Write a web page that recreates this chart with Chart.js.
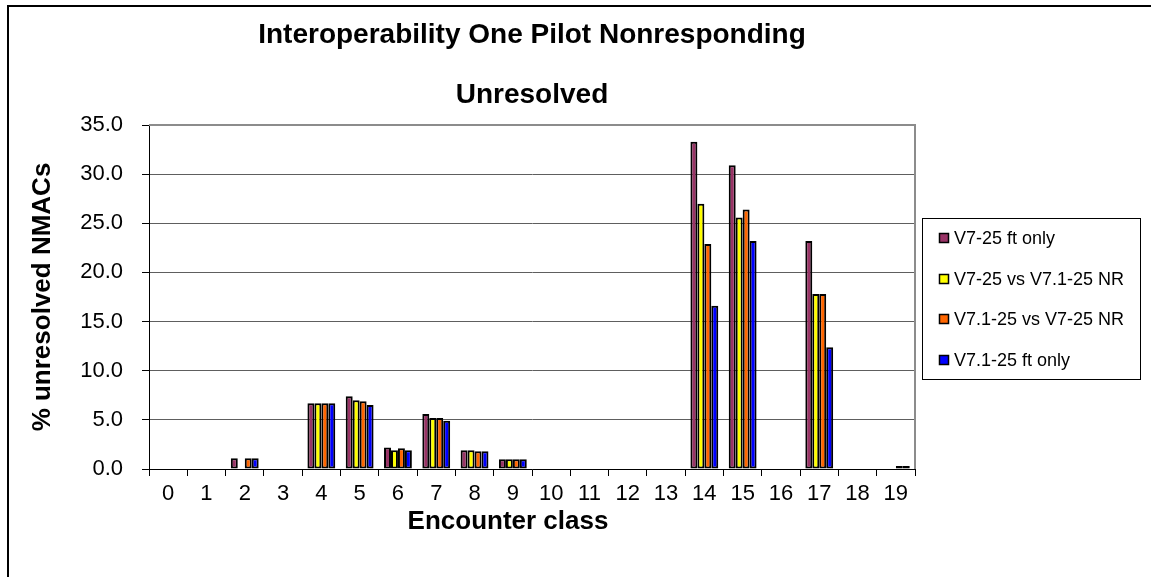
<!DOCTYPE html>
<html>
<head>
<meta charset="utf-8">
<title>Interoperability One Pilot Nonresponding Unresolved</title>
<script src="https://cdn.jsdelivr.net/npm/chart.js@4.4.1/dist/chart.umd.min.js"></script>
<style>
  html, body { margin: 0; padding: 0; background: #fff; }
  canvas { display: block; }
</style>
</head>
<body>
<canvas id="grafica" width="1151" height="577"></canvas>
<script>
// Datos: clases de encuentro y % de NMACs sin resolver por configuracion
var clases = ['0', '1', '2', '3', '4', '5', '6', '7', '8', '9',
              '10', '11', '12', '13', '14', '15', '16', '17', '18', '19'];
var nombres = ['V7-25 ft only', 'V7-25 vs V7.1-25 NR', 'V7.1-25 vs V7-25 NR', 'V7.1-25 ft only'];
var v7Solo    = [0, 0, 1.1, 0, 6.7, 7.4, 2.2, 5.6, 1.9, 1.0, 0, 0, 0, 0, 33.3, 30.9, 0, 23.2, 0, 0];
var v7vsV71   = [0, 0, 0,   0, 6.7, 7.0, 1.9, 5.2, 1.9, 1.0, 0, 0, 0, 0, 27.0, 25.6, 0, 17.8, 0, 0];
var v71vsV7   = [0, 0, 1.1, 0, 6.7, 6.9, 2.1, 5.2, 1.8, 1.0, 0, 0, 0, 0, 22.9, 26.4, 0, 17.8, 0, 0.3];
var v71Solo   = [0, 0, 1.1, 0, 6.7, 6.5, 1.9, 4.9, 1.8, 1.0, 0, 0, 0, 0, 16.6, 23.2, 0, 12.4, 0, 0.3];
var colores = ['#993366', '#ffff00', '#ff6600', '#0000ff'];
var ejeY = { min: 0, max: 35, paso: 5 };
var tituloX = 'Encounter class';

var fuente = "Arial, 'Liberation Sans', sans-serif";

document.addEventListener('DOMContentLoaded', function() {
  Chart.defaults.font.family = fuente;
  Chart.defaults.color = '#000';

  // Marco exterior, borde del area de trazado, titulo del eje X y leyenda con recuadro
  var marco = {
    id: 'marco',
    beforeDraw: function(chart) {
      var ctx = chart.ctx;
      ctx.save();
      ctx.fillStyle = '#fff';
      ctx.fillRect(0, 0, chart.width, chart.height);
      ctx.fillStyle = '#000';
      ctx.fillRect(7, 5, chart.width - 7, 2);
      ctx.fillRect(7, 5, 2, chart.height - 5);
      ctx.restore();
    },
    beforeDatasetsDraw: function(chart) {
      var a = chart.chartArea;
      var ctx = chart.ctx;
      ctx.save();
      ctx.strokeStyle = '#8c8c8c';
      ctx.lineWidth = 2;
      ctx.beginPath();
      ctx.moveTo(a.left, a.top);
      ctx.lineTo(a.right, a.top);
      ctx.lineTo(a.right, a.bottom);
      ctx.stroke();
      ctx.restore();
    },
    afterDraw: function(chart) {
      var ctx = chart.ctx;
      ctx.save();
      // titulo del eje X, algo desplazado a la izquierda del centro
      ctx.fillStyle = '#000';
      ctx.font = 'bold 26px ' + fuente;
      ctx.textAlign = 'center';
      ctx.textBaseline = 'middle';
      ctx.fillText(tituloX, 508, 522);

      var caja = { x: 922, y: 218, w: 218, h: 161 };
      ctx.textAlign = 'left';
      ctx.strokeStyle = '#000';
      ctx.lineWidth = 1;
      ctx.strokeRect(caja.x + 0.5, caja.y + 0.5, caja.w, caja.h);
      ctx.font = '18px ' + fuente;
      chart.data.datasets.forEach(function(ds, i) {
        var cy = Math.round(238 + i * 40.7);
        ctx.fillStyle = ds.backgroundColor;
        ctx.fillRect(939, cy - 5, 10, 10);
        ctx.strokeStyle = '#000';
        ctx.lineWidth = 1.5;
        ctx.strokeRect(939.5, cy - 4.5, 9, 9);
        ctx.fillStyle = '#000';
        ctx.fillText(ds.label, 954, cy + 1);
      });
      ctx.restore();
    }
  };

  var series = [v7Solo, v7vsV71, v71vsV7, v71Solo];
  var datasets = series.map(function(valores, i) {
    return {
      label: nombres[i],
      data: valores,
      backgroundColor: colores[i],
      borderColor: '#000',
      borderWidth: 2,
      borderSkipped: false,
      categoryPercentage: 0.727,
      barPercentage: 1.0
    };
  });

  var ctx = document.getElementById('grafica').getContext('2d');
  var grafica = new Chart(ctx, {
    type: 'bar',
    data: { labels: clases, datasets: datasets },
    plugins: [marco],
    options: {
      responsive: false,
      animation: false,
      devicePixelRatio: 1,
      layout: { padding: { left: 0, right: 236, top: 6, bottom: 0 } },
      plugins: {
        legend: { display: false },
        tooltip: { enabled: false },
        title: {
          display: true,
          fullSize: false,
          text: ['Interoperability One Pilot Nonresponding', 'Unresolved'],
          font: { size: 28, weight: 'bold', lineHeight: 2.125 },
          color: '#000',
          padding: { top: 0, bottom: 0 }
        }
      },
      scales: {
        x: {
          afterFit: function(scale) { scale.height = 108; },
          grid: {
            display: true,
            drawOnChartArea: false,
            drawTicks: true,
            tickLength: 7,
            color: '#000',
            offset: true
          },
          border: { display: true, color: '#000', width: 1 },
          ticks: { font: { size: 22 }, color: '#000', padding: 5, maxRotation: 0, autoSkip: false }
        },
        y: {
          min: ejeY.min,
          max: ejeY.max,
          afterFit: function(scale) { scale.width = 149; },
          grid: {
            color: '#5e5e5e',
            tickColor: '#000',
            tickLength: 7,
            lineWidth: 1
          },
          border: { display: true, color: '#000', width: 1 },
          ticks: {
            stepSize: ejeY.paso,
            font: { size: 22 },
            color: '#000',
            padding: 19,
            callback: function(v) { return v.toFixed(1); }
          },
          title: {
            display: true,
            text: '% unresolved NMACs',
            font: { size: 26, weight: 'bold' },
            color: '#000',
            padding: { top: 27, bottom: 0 }
          }
        }
      }
    }
  });
});
</script>
</body>
</html>
